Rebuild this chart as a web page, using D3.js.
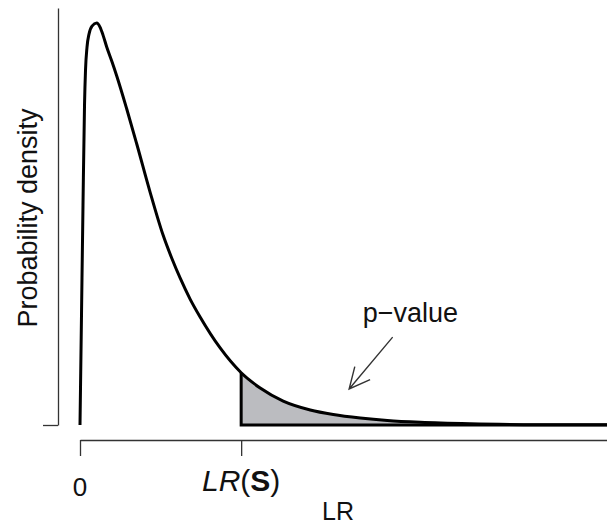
<!DOCTYPE html>
<html lang="en">
<head>
    <meta charset="UTF-8">
    <title>LR null distribution</title>
    <style>
        body{ margin: 0; background: white; }
        svg{ display: block; }
        text{ font-family: "Liberation Sans", Arial, sans-serif; fill: #111; }
    </style>
    <script src="https://cdn.jsdelivr.net/npm/d3@7"></script>
</head>
<body>
<script>
    const width = 607
    const height = 524

    // density curve (LR value, density)
    const lrValues = [0, 0.093, 0.186, 0.280, 0.342, 0.435, 0.559, 0.745, 1.040, 1.242, 1.429, 1.658,
        1.969, 2.280, 2.901, 3.522, 4.348, 5.155, 5.714, 6.211, 6.832, 7.453, 8.696, 10.0, 11.180,
        12.609, 14.286, 15.714, 17.391, 19.068, 21.118, 24.224, 28.571, 32.733]
    const densityValues = [0, 0.0657, 0.1313, 0.1910, 0.2119, 0.2257, 0.2334, 0.2382, 0.2400, 0.2376, 0.2328, 0.2257,
        0.2173, 0.2084, 0.1887, 0.1678, 0.1391, 0.1134, 0.0991, 0.0878, 0.0752, 0.0645, 0.0460, 0.0312, 0.0221,
        0.0143, 0.0090, 0.0063, 0.0042, 0.0027, 0.0016, 0.0007, 0.0002, 0.0001]

    const observedLR = 10          // LR(S)
    const xTicks = [0, observedLR]
    const xLabel = "LR"
    const yLabel = "Probability density"
    const annotation = {text: "p\u2212value", x: 20.5, y: 0.0615, tailX: 19.4, tailY: 0.0525, tipX: 16.7, tipY: 0.0215}

    const data = lrValues.map((v, i) => ({x: v, y: densityValues[i]}))

    let svg = d3.select("body").append("svg")
        .attr("width", width)
        .attr("height", height)

    const x = d3.scaleLinear().domain([0, 32.7]).range([80, 607])
    const y = d3.scaleLinear().domain([0, 0.249]).range([425, 8])

    // shaded tail (p-value area)
    const tail = data.filter(d => d.x >= observedLR)

    const area = d3.area()
        .x(d => x(d.x))
        .y0(y(0))
        .y1(d => y(d.y))
        .curve(d3.curveMonotoneX)

    svg.append("path")
        .datum(tail)
        .attr("d", area)
        .attr("fill", "#bbbcc0")

    // outline of shaded region (vertical edge + bottom)
    svg.append("path")
        .attr("d", `M${x(observedLR)},${y(tail[0].y)}V${y(0)}H${width}`)
        .attr("fill", "none")
        .attr("stroke", "black")
        .attr("stroke-width", 3)

    // density curve
    const line = d3.line()
        .x(d => x(d.x))
        .y(d => y(d.y))
        .curve(d3.curveMonotoneX)

    svg.append("path")
        .datum(data)
        .attr("d", line)
        .attr("fill", "none")
        .attr("stroke", "black")
        .attr("stroke-width", 3)
        .attr("stroke-linejoin", "round")

    // x axis
    let gx = svg.append("g")
        .attr("transform", "translate(0,440)")
        .call(d3.axisBottom(x).tickValues(xTicks).tickSize(16).tickSizeOuter(0).tickFormat(""))
    gx.select(".domain").attr("stroke", "#333").attr("stroke-width", 1.3)
    gx.selectAll(".tick line").attr("stroke", "#333").attr("stroke-width", 1.3)

    svg.append("text")
        .attr("x", x(0)).attr("y", 496)
        .attr("text-anchor", "middle")
        .attr("font-size", 26)
        .text("0")

    let lrs = svg.append("text")
        .attr("x", x(observedLR)).attr("y", 491)
        .attr("text-anchor", "middle")
        .attr("font-size", 30)
    lrs.append("tspan").attr("font-style", "italic").text("LR")
    lrs.append("tspan").text("(")
    lrs.append("tspan").attr("font-weight", "bold").text("S")
    lrs.append("tspan").text(")")

    svg.append("text")
        .attr("x", 338).attr("y", 520)
        .attr("text-anchor", "middle")
        .attr("font-size", 25)
        .text(xLabel)

    // y axis: a bare line with a single tick at zero
    let gy = svg.append("g")
        .attr("transform", "translate(58,0)")
        .call(d3.axisLeft(y).tickValues([0]).tickSize(15).tickSizeOuter(0).tickFormat(""))
    gy.select(".domain").attr("stroke", "#333").attr("stroke-width", 1.3)
    gy.selectAll(".tick line").attr("stroke", "#333").attr("stroke-width", 1.3)

    svg.append("text")
        .attr("transform", "translate(37,218) rotate(-90)")
        .attr("text-anchor", "middle")
        .attr("font-size", 27)
        .text(yLabel)

    // p-value annotation with open arrow
    svg.append("text")
        .attr("x", x(annotation.x)).attr("y", y(annotation.y))
        .attr("text-anchor", "middle")
        .attr("font-size", 27)
        .text(annotation.text)

    const tx = x(annotation.tipX), ty = y(annotation.tipY)
    const sx = x(annotation.tailX), sy = y(annotation.tailY)
    const ang = Math.atan2(sy - ty, sx - tx)
    const headLen = 23, spread = Math.PI / 7
    svg.append("path")
        .attr("d", `M${sx},${sy}L${tx},${ty}` +
            `M${tx + headLen * Math.cos(ang - spread)},${ty + headLen * Math.sin(ang - spread)}L${tx},${ty}` +
            `L${tx + headLen * Math.cos(ang + spread)},${ty + headLen * Math.sin(ang + spread)}`)
        .attr("fill", "none")
        .attr("stroke", "#333")
        .attr("stroke-width", 1.4)
</script>
</body>
</html>
